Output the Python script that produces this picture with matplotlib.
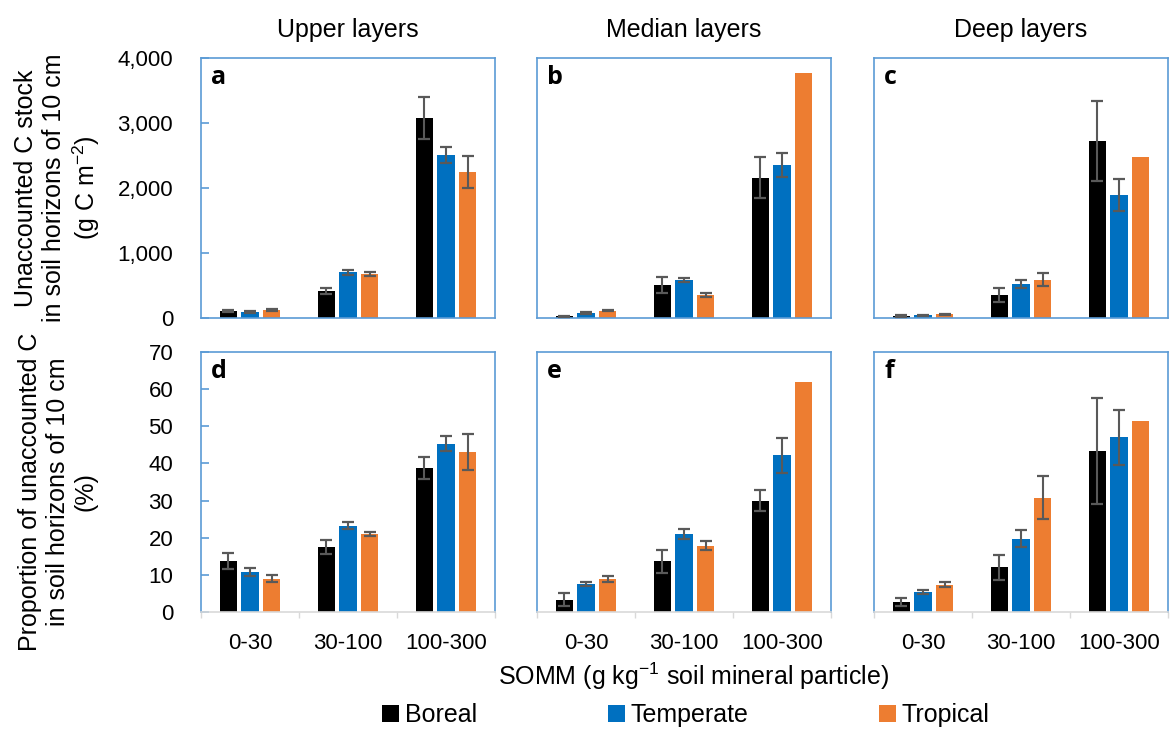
import numpy as np
import matplotlib
matplotlib.use("Agg")
import matplotlib.pyplot as plt
from matplotlib.patches import Patch
from matplotlib.ticker import FuncFormatter

plt.rcParams['font.family'] = ['Liberation Sans', 'DejaVu Sans']
plt.rcParams['mathtext.fontset'] = 'custom'
plt.rcParams['mathtext.rm'] = 'Liberation Sans'
plt.rcParams['mathtext.it'] = 'Liberation Sans:italic'

# SOMM classes (g kg-1 soil mineral particle)
categories = ['0-30', '30-100', '100-300']
biomes = ['Boreal', 'Temperate', 'Tropical']
layers = ['Upper layers', 'Median layers', 'Deep layers']

# unaccounted C stock (g C m-2), one list per biome, per layer
stock_upper = [[110, 415, 3077], [95, 703, 2508], [130, 677, 2246]]
stock_upper_err = [[15, 50, 323], [12, 35, 123], [15, 25, 244]]
stock_median = [[26, 508, 2159], [77, 585, 2354], [113, 354, 3769]]
stock_median_err = [[10, 123, 318], [10, 36, 190], [10, 27, np.nan]]
stock_deep = [[31, 354, 2723], [41, 528, 1887], [61, 585, 2472]]
stock_deep_err = [[10, 108, 613], [10, 59, 246], [8, 100, np.nan]]

# proportion of unaccounted C (%)
prop_upper = [[13.7, 17.6, 38.8], [10.8, 23.2, 45.3], [9.0, 21.0, 43.1]]
prop_upper_err = [[2.2, 1.9, 3.0], [1.0, 0.9, 2.0], [1.0, 0.6, 4.9]]
prop_median = [[3.3, 13.6, 30.0], [7.5, 21.0, 42.2], [8.9, 17.9, 61.8]]
prop_median_err = [[1.8, 3.0, 2.8], [0.5, 1.4, 4.7], [0.7, 1.1, np.nan]]
prop_deep = [[2.7, 12.0, 43.3], [5.3, 19.7, 47.0], [7.4, 30.8, 51.3]]
prop_deep_err = [[1.1, 3.3, 14.2], [0.5, 2.3, 7.3], [0.6, 5.7, np.nan]]

colors = ['#000000', '#0070C0', '#ED7D31']
frame_col = '#5B9BD5'
err_col = '#595959'

W, H = 1171, 731


def px_rect(l, t, r, b):
    return [l / W, 1 - b / H, (r - l) / W, (b - t) / H]


def draw_panel(ax, vals, errs, letter, ymax, show_y, bottom_row):
    x = np.arange(len(categories))
    width = 0.175
    pitch = 0.22
    for i, (v, e) in enumerate(zip(vals, errs)):
        xi = x + (i - 1) * pitch
        ax.bar(xi, v, width, color=colors[i], zorder=2)
        e = np.asarray(e, dtype=float)
        ok = ~np.isnan(e)
        ax.errorbar(xi[ok], np.asarray(v)[ok], yerr=e[ok], fmt='none',
                    ecolor=err_col, elinewidth=1.5, capsize=4.5,
                    capthick=1.6, zorder=3)
    ax.set_xlim(-0.5, 2.5)
    ax.set_ylim(0, ymax)
    for s in ax.spines.values():
        s.set_color(frame_col)
        s.set_linewidth(1.2)
    ax.text(0.035, 0.975, letter, transform=ax.transAxes, ha='left',
            va='top', fontsize=18, fontweight='bold',
            family=['Open Sans', 'DejaVu Sans'])
    if show_y:
        ax.tick_params(axis='y', direction='in', length=5.5, width=1.2,
                       color=frame_col, labelsize=16, pad=20)
    else:
        ax.tick_params(axis='y', length=0, labelleft=False)
    if bottom_row:
        ax.spines['bottom'].set_color('#D9D9D9')
        ax.set_xticks(x)
        ax.set_xticklabels(categories)
        ax.set_xticks([-0.5, 0.5, 1.5, 2.5], minor=True)
        ax.tick_params(axis='x', which='major', length=0, labelsize=16,
                       pad=15)
        ax.tick_params(axis='x', which='minor', length=4, width=1,
                       color='#D9D9D9', direction='out')
    else:
        ax.set_xticks([])


fig = plt.figure(figsize=(W / 100, H / 100), dpi=100)

lefts = [201, 537, 874]
col_w = 294
top_data = [(stock_upper, stock_upper_err), (stock_median, stock_median_err),
            (stock_deep, stock_deep_err)]
bot_data = [(prop_upper, prop_upper_err), (prop_median, prop_median_err),
            (prop_deep, prop_deep_err)]

for j in range(3):
    ax = fig.add_axes(px_rect(lefts[j], 58, lefts[j] + col_w, 318))
    v, e = top_data[j]
    draw_panel(ax, v, e, 'abc'[j], 4000, j == 0, False)
    ax.set_title(layers[j], fontsize=18, pad=15)
    if j == 0:
        ax.set_yticks([0, 1000, 2000, 3000, 4000])
        ax.yaxis.set_major_formatter(FuncFormatter(lambda t, p: f'{t:,.0f}'))

    ax2 = fig.add_axes(px_rect(lefts[j], 352, lefts[j] + col_w, 612))
    v, e = bot_data[j]
    draw_panel(ax2, v, e, 'def'[j], 70, j == 0, True)
    if j == 0:
        ax2.set_yticks(range(0, 71, 10))

fig.text(58 / W, 1 - 188 / H,
         'Unaccounted C stock\nin soil horizons of 10 cm\n(g C m$^{\\mathrm{-2}}$)',
         rotation=90, ha='center', va='center', multialignment='center',
         fontsize=18, linespacing=1.2)
fig.text(58 / W, 1 - 492 / H,
         'Proportion of unaccounted C\nin soil horizons of 10 cm\n(%)',
         rotation=90, ha='center', va='center', multialignment='center',
         fontsize=18, linespacing=1.2)

fig.text(693 / W, 1 - 676 / H,
         'SOMM (g kg$^{\\mathrm{-1}}$ soil mineral particle)',
         ha='center', va='center', fontsize=18)

handles = [Patch(facecolor=c) for c in colors]
fig.legend(handles, biomes, loc='center', bbox_to_anchor=(686 / W, 1 - 715 / H),
           ncol=3, frameon=False, fontsize=18, handlelength=0.68,
           handleheight=0.68, handletextpad=0.25, columnspacing=5.2,
           borderpad=0, borderaxespad=0)

fig.savefig('out.png', dpi=100)
